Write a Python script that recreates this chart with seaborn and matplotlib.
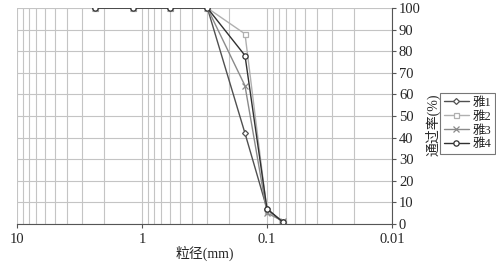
import matplotlib
matplotlib.use("Agg")
import matplotlib.pyplot as plt
import seaborn as sns
import pandas as pd
from matplotlib.ticker import LogLocator, FixedLocator, NullFormatter

sizes = [2.36, 1.18, 0.6, 0.3, 0.15, 0.1, 0.075]
ya1 = [100, 100, 100, 100, 42, 7, 1]
ya2 = [100, 100, 100, 100, 88, 6, 1]
ya3 = [100, 100, 100, 100, 64, 5, 1.5]
ya4 = [100, 100, 100, 100, 78, 7, 1]
names = ["雅1", "雅2", "雅3", "雅4"]
x_ticks = [10, 1, 0.1, 0.01]
x_ticklabels = ["10", "1", "0.1", "0.01"]
y_ticks = list(range(0, 101, 10))

sns.set_theme(style="white")
plt.rcParams['font.family'] = ['Liberation Serif', 'Noto Sans CJK SC']

df = pd.DataFrame({
    "size": sizes * 4,
    "pass": ya1 + ya2 + ya3 + ya4,
    "name": sum([[n] * len(sizes) for n in names], []),
})

fig = plt.figure(figsize=(4.96, 2.64), dpi=100)
ax = fig.add_axes([17/496, 1-224/264, (392-17)/496, (224-8)/264])

styles = {
    "雅1": dict(color="#505050", marker="D", ms=3.0),
    "雅2": dict(color="#b0b0b0", marker="s", ms=3.6),
    "雅3": dict(color="#8a8a8a", marker="x", ms=3.8),
    "雅4": dict(color="#303030", marker="o", ms=3.8),
}
for n in names:
    st = styles[n]
    sub = df[df["name"] == n]
    sns.lineplot(data=sub, x="size", y="pass", ax=ax, color=st["color"],
                 marker=st["marker"], markersize=st["ms"], markerfacecolor="white",
                 markeredgecolor=st["color"], markeredgewidth=0.9, lw=1.0,
                 label=n, legend=False, sort=False)

ax.set_xscale("log")
ax.set_xlim(10, 0.01)
ax.set_ylim(0, 100)
ax.xaxis.set_major_locator(FixedLocator(x_ticks))
ax.set_xticklabels(x_ticklabels)
ax.xaxis.set_minor_locator(LogLocator(base=10, subs=range(2, 10)))
ax.xaxis.set_minor_formatter(NullFormatter())
ax.set_yticks(y_ticks)
ax.yaxis.tick_right()
ax.yaxis.set_label_position("right")
ax.grid(True, which="both", axis="x", color="#c4c4c4", lw=0.8)
ax.grid(True, which="major", axis="y", color="#c4c4c4", lw=0.8)
for s in ["top", "left"]:
    ax.spines[s].set_visible(False)
for s in ["bottom", "right"]:
    ax.spines[s].set_color("#555555")
    ax.spines[s].set_linewidth(0.8)
ax.tick_params(axis="y", which="major", right=True, length=3, width=0.8, color="#555555",
               labelsize=10.5, pad=2)
ax.tick_params(axis="x", which="major", bottom=True, length=3, width=0.8, color="#555555",
               labelsize=10.5, pad=3.5)
ax.tick_params(axis="x", which="minor", bottom=False)
ax.set_xlabel("粒径(mm)", fontsize=10, labelpad=0)
ax.set_ylabel("通过率(%)", fontsize=10)
ax.yaxis.set_label_coords((425-17)/375, (224-125)/216)

handles, labels = ax.get_legend_handles_labels()
leg = fig.legend(handles, labels, loc="upper left", bbox_to_anchor=(440/496, 1-93/264),
                 fontsize=9, frameon=True, fancybox=False, handlelength=2.0,
                 handletextpad=0.3, borderpad=0.3, labelspacing=0.15, borderaxespad=0)
leg.get_frame().set_edgecolor("#555555")
leg.get_frame().set_linewidth(0.8)

fig.savefig("out.png", dpi=100)
